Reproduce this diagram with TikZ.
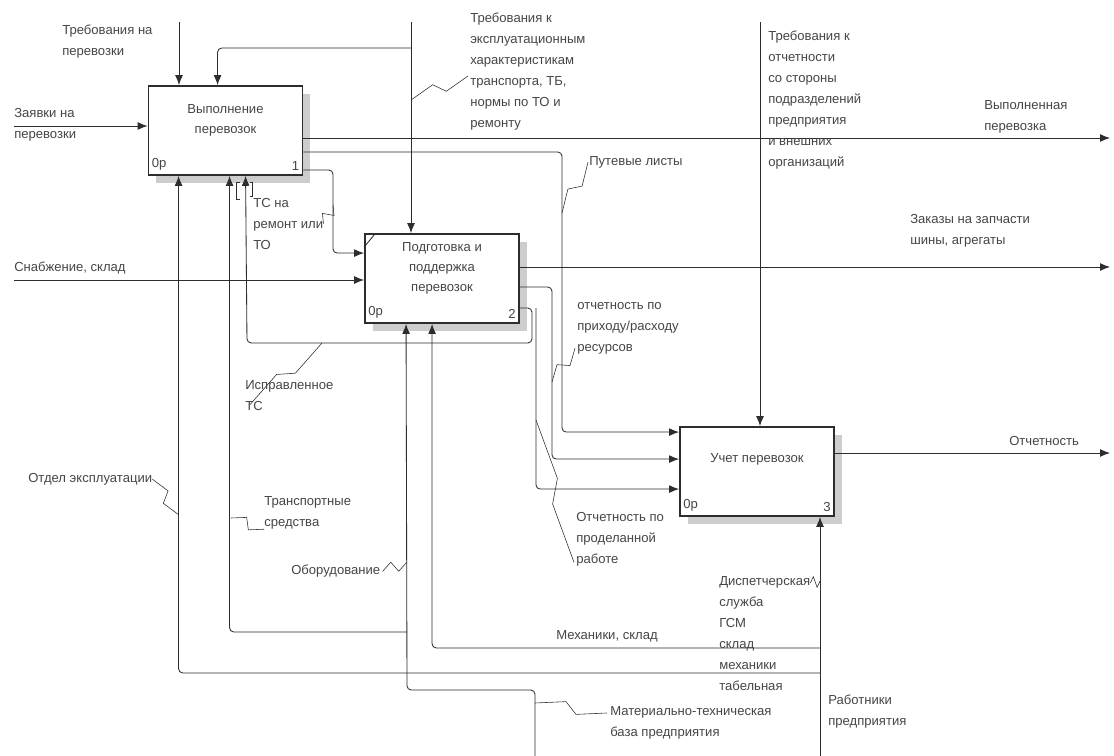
\documentclass[tikz,border=0pt]{standalone}
\usepackage{fontspec}
\setmainfont{Liberation Sans}
\definecolor{idefline}{RGB}{45, 45, 45}
\definecolor{ideftext}{RGB}{70, 70, 70}
\definecolor{idefshade}{RGB}{205, 205, 205}
\usetikzlibrary{
    arrows.meta,
    positioning,
    calc,
    shadows
}

\begin{document}
\begin{tikzpicture}[x=0.025cm, y=-0.025cm,
    actbox/.style={draw=idefline, line width=1.3pt, fill=white, inner sep=0pt,
                   minimum width=3.85cm, minimum height=2.225cm,
                   general shadow={fill=idefshade, shadow xshift=5.5pt, shadow yshift=-5.5pt}},
    boxtitle/.style={align=center, inner sep=0pt, text=ideftext, font=\fontsize{9.3}{14.2}\selectfont},
    boxid/.style={inner sep=0pt, text=ideftext, font=\fontsize{9.3}{11}\selectfont},
    lbl/.style={anchor=north west, inner sep=0pt, align=left, text=ideftext,
                font=\fontsize{9.3}{14.9}\selectfont},
    arr/.style={draw=idefline, line width=0.6pt, rounded corners=3pt,
                -{Latex[length=7pt, width=5.5pt]}},
    conn/.style={draw=idefline, line width=0.6pt, rounded corners=3pt},
    lead/.style={draw=idefline, line width=0.4pt},
    squig/.style={to path={-- ($(\tikztostart)!0.42!(\tikztotarget)!4pt!90:(\tikztotarget)$)
                           -- ($(\tikztostart)!0.58!(\tikztotarget)!4pt!-90:(\tikztotarget)$)
                           -- (\tikztotarget)}}]

    \path[use as bounding box, fill=white] (0,0) rectangle (1114,756);

    % Activity boxes
    \node[actbox] (b1) at (225.5,130.5) {};
    \node[actbox] (b2) at (442,278.5) {};
    \node[actbox] (b3) at (757,471.5) {};

    \node[boxtitle] (b1t) at ($(b1.center)+(0,-10)$) {Выполнение\\перевозок};
    \node[boxtitle] (b2t) at ($(b2.center)+(0,-10)$) {Подготовка и\\поддержка\\перевозок};
    \node[boxtitle] (b3t) at ($(b3.center)+(0,-12)$) {Учет перевозок};

    \node[boxid, anchor=south west] (b1c) at ($(b1.south west)+(4,-5)$) {0р};
    \node[boxid, anchor=south east] (b1n) at ($(b1.south east)+(-4,-5)$) {1};
    \node[boxid, anchor=south west] (b2c) at ($(b2.south west)+(4,-5)$) {0р};
    \node[boxid, anchor=south east] (b2n) at ($(b2.south east)+(-4,-5)$) {2};
    \node[boxid, anchor=south west] (b3c) at ($(b3.south west)+(4,-5)$) {0р};
    \node[boxid, anchor=south east] (b3n) at ($(b3.south east)+(-4,-5)$) {3};

    % Free ends and bends
    \coordinate (zin) at (14,126);
    \coordinate (sin) at (14,280);
    \coordinate (rin) at (179,22);
    \coordinate (ein) at (411,22);
    \coordinate (ejn) at (411,48);
    \coordinate (otin) at (760,22);
    \coordinate (vout) at (1110,138);
    \coordinate (zout) at (1110,267);
    \coordinate (oout) at (1110,453);
    \coordinate (rab) at (820,756);
    \coordinate (mtb) at (535,756);
    \coordinate (plk) at (562,152);
    \coordinate (tsk) at (333,170);
    \coordinate (ork) at (552,287);
    \coordinate (isk) at (532,308);
    \coordinate (isb) at (247,343);
    \coordinate (prk) at (536,308);
    \coordinate (mkj) at (820,648);
    \coordinate (otj) at (820,673);
    \coordinate (mtk) at (407,690);
    \coordinate (tsj) at (407,632);

    % Inputs
    \draw[arr] (zin) -- (zin -| b1.west);
    \draw[arr] (sin) -- (sin -| b2.west);
    \draw[arr] (b1.east |- tsk) -- (tsk) |- ($(b2.north west)+(0,20)$);
    \draw[arr] (b1.east |- plk) -- (plk) |- ($(b3.north west)+(0,6)$);
    \draw[arr] (b2.east |- ork) -- (ork) |- ($(b3.north west)+(0,33)$);
    \draw[arr] (prk) |- ($(b3.north west)+(0,63)$);

    % Controls
    \draw[arr] (rin) -- (rin |- b1.north);
    \draw[arr] (ein) -- (ein |- b2.north);
    \draw[arr] (ejn) -| ($(b1.north west)+(70,0)$);
    \draw[arr] (otin) -- (otin |- b3.north);

    % Outputs
    \draw[arr] (vout -| b1.east) -- (vout);
    \draw[arr] (zout -| b2.east) -- (zout);
    \draw[arr] (oout -| b3.east) -- (oout);
    \draw[arr] (b2.east |- isk) -- (isk) |- (isb) -- ($(b1.south west)+(98,0)$);

    % Mechanisms
    \draw[arr] (rab) -- (rab |- b3.south);
    \draw[arr] (mkj) -| ($(b2.south west)+(68,0)$);
    \draw[arr] (otj) -| ($(b1.south west)+(31,0)$);
    \draw[arr] (mtb) |- (mtk) -- ($(b2.south west)+(42,0)$);
    \draw[arr] (tsj) -| ($(b1.south west)+(82,0)$);

    % Tunnel marks
    \draw[conn, rounded corners=0pt] ($(b1.south west)+(92,6)$) -- ++(-3,0) -- ++(0,17) -- ++(3,0);
    \draw[conn, rounded corners=0pt] ($(b1.south west)+(102,6)$) -- ++(3,0) -- ++(0,14) -- ++(-3,0);
    \draw[conn] ($(b2.north west)+(0,14)$) -- ($(b2.north west)+(10,2)$);

    % Labels
    \node[lbl] (trp) at (62,25) {Требования на\\перевозки};
    \node[lbl] (zvk) at (14,108) {Заявки на\\перевозки};
    \node[lbl] (tre) at (470,13) {Требования к\\эксплуатационным\\характеристикам\\транспорта, ТБ,\\нормы по ТО и\\ремонту};
    \node[lbl] (tro) at (768,31) {Требования к\\отчетности\\со стороны\\подразделений\\предприятия\\и внешних\\организаций};
    \node[lbl] (vyp) at (984,100) {Выполненная\\перевозка};
    \node[lbl] (ptl) at (589,156) {Путевые листы};
    \node[lbl] (zkz) at (910,214) {Заказы на запчасти\\шины, агрегаты};
    \node[lbl] (tsr) at (253,198) {ТС на\\ремонт или\\ТО};
    \node[lbl] (snb) at (14,262) {Снабжение, склад};
    \node[lbl] (opr) at (577,302) {отчетность по\\приходу/расходу\\ресурсов};
    \node[lbl] (isp) at (245,380) {Исправленное\\ТС};
    \node[lbl] (otd) at (28,473) {Отдел эксплуатации};
    \node[lbl] (tsp) at (264,496) {Транспортные\\средства};
    \node[lbl] (obr) at (291,565) {Оборудование};
    \node[lbl] (opw) at (576,512) {Отчетность по\\проделанной\\работе};
    \node[lbl] (otc) at (1009,436) {Отчетность};
    \node[lbl] (dsp) at (719,576) {Диспетчерская\\служба\\ГСМ\\склад\\механики\\табельная};
    \node[lbl] (mks) at (556,630) {Механики, склад};
    \node[lbl] (mtl) at (610,706) {Материально-техническая\\база предприятия};
    \node[lbl] (rbt) at (828,695) {Работники\\предприятия};

    % Label leaders
    \draw[lead] ($(tre.north west)+(-2,63)$) to[squig] (411,100);
    \draw[lead] ($(ptl.west)+(-1,0)$) to[squig] (562,213);
    \draw[lead] (tsr.east) to[squig] (333,205);
    \draw[lead] ($(opr.south west)+(-2,-6)$) to[squig] (552,382);
    \draw[lead] ($(isp.south west)+(5,-6)$) to[squig] (322,343);
    \draw[lead] (otd.east) to[squig] (179,515);
    \draw[lead] (tsp.south west) to[squig] (231,518);
    \draw[lead] ($(obr.east)+(2,0)$) to[squig] (407,562);
    \draw[lead] ($(opw.south west)+(-2,-4)$) to[squig] (536,420);
    \draw[lead] ($(dsp.north east)+(0,7)$) to[squig] (820,581);
    \draw[lead] ($(mtl.north west)+(-3,7)$) to[squig] (535,703);
\end{tikzpicture}
\end{document}
